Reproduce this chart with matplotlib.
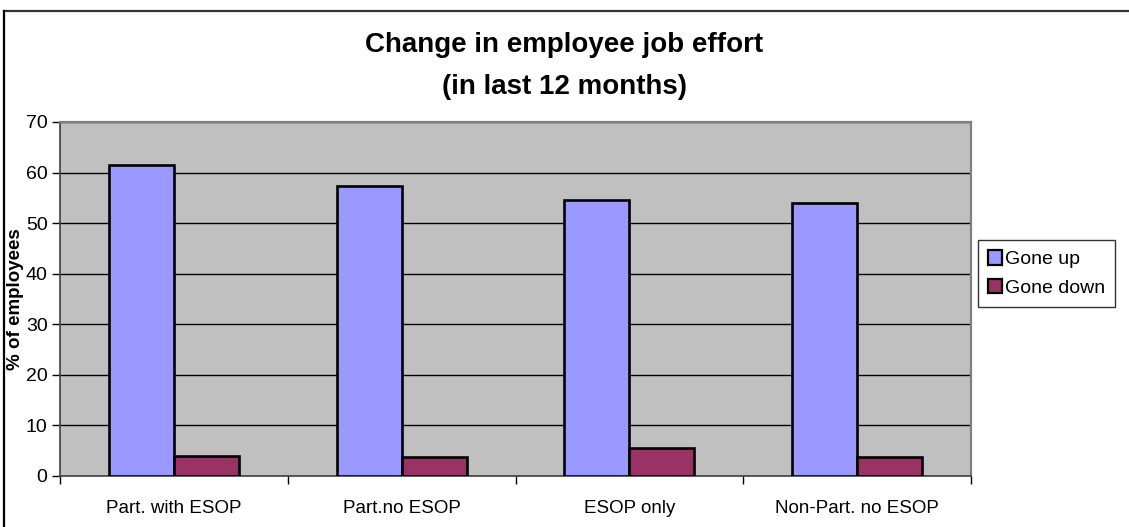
import matplotlib
matplotlib.use("Agg")
import matplotlib.pyplot as plt
from matplotlib.lines import Line2D
import numpy as np

categories = ["Part. with ESOP", "Part.no ESOP", "ESOP only", "Non-Part. no ESOP"]
gone_up = [61.5, 57.4, 54.5, 53.9]
gone_down = [4.0, 3.8, 5.5, 3.7]
series_names = ["Gone up", "Gone down"]
y_ticks = [0, 10, 20, 30, 40, 50, 60, 70]

plt.rcParams["font.family"] = ["Liberation Sans", "DejaVu Sans"]

W, H = 1129, 527
fig = plt.figure(figsize=(W / 100, H / 100), dpi=100)

# plot area in pixel coordinates
left, right, top, bottom = 60, 971, 122, 476
ax = fig.add_axes([left / W, 1 - bottom / H, (right - left) / W, (bottom - top) / H])
ax.set_facecolor("#C0C0C0")

x = np.arange(len(categories))
bw = 1 / 3.5
ax.bar(x - bw / 2, gone_up, bw, color="#9999FF", edgecolor="black", linewidth=1.9,
       label=series_names[0], zorder=3)
ax.bar(x + bw / 2, gone_down, bw, color="#993366", edgecolor="black", linewidth=1.9,
       label=series_names[1], zorder=3)

ax.set_xlim(-0.5, len(categories) - 0.5)
ax.set_ylim(0, 70)
ax.set_yticks(y_ticks)
ax.set_yticklabels([str(v) for v in y_ticks], fontsize=14)
ax.yaxis.grid(True, color="black", linewidth=1.0, zorder=1)
ax.set_axisbelow(True)

# category boundaries carry the tick marks, centres carry the labels
ax.set_xticks(np.arange(-0.5, len(categories), 1.0))
ax.set_xticklabels([])
ax.set_xticks(x, minor=True)
ax.set_xticklabels(categories, minor=True, fontsize=13.5)
ax.tick_params(axis="x", which="minor", length=0, pad=17)
ax.tick_params(axis="x", which="major", length=6, width=1, color="black", direction="out")
ax.tick_params(axis="y", length=6, width=1, color="black", direction="out", pad=3)

for side in ("left", "bottom"):
    ax.spines[side].set_color("#404040")
    ax.spines[side].set_linewidth(1.2)
for side in ("top", "right"):
    ax.spines[side].set_color("#808080")
    ax.spines[side].set_linewidth(1.6)

ax.set_ylabel("% of employees", fontsize=13.5, fontweight="bold")
ax.yaxis.set_label_coords((24 - left) / (right - left), 0.5)

fig.text(0.5, 1 - 45 / H, "Change in employee job effort",
         ha="center", va="center", fontsize=20, fontweight="bold")
fig.text(0.5, 1 - 87 / H, "(in last 12 months)",
         ha="center", va="center", fontsize=20, fontweight="bold")

leg = fig.legend(loc="upper left", bbox_to_anchor=(978 / W, 1 - 240 / H),
                 fontsize=14, frameon=True, fancybox=False, handlelength=0.75,
                 handleheight=0.8, handletextpad=0.15, borderpad=0.5,
                 labelspacing=0.55, borderaxespad=0)
leg.get_frame().set_edgecolor("black")
leg.get_frame().set_linewidth(1.0)
for patch in leg.get_patches():
    patch.set_linewidth(1.6)

# chart outline: top and left edges
fig.add_artist(Line2D([4 / W, 1], [1 - 11 / H, 1 - 11 / H], color="#333333",
                      linewidth=1.6, transform=fig.transFigure))
fig.add_artist(Line2D([4 / W, 4 / W], [1 - 11 / H, 0], color="black",
                      linewidth=1.6, transform=fig.transFigure))

fig.savefig("out.png", dpi=100, facecolor="white")
